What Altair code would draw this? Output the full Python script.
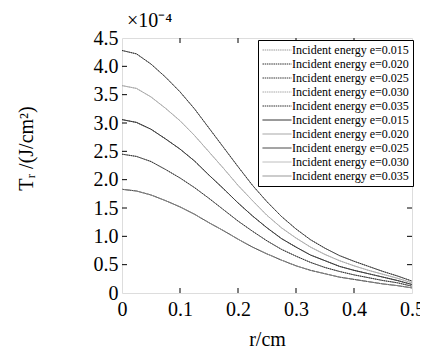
import altair as alt
import pandas as pd

# radial position (cm)
r_cm = [0.0, 0.025, 0.05, 0.075, 0.1, 0.125, 0.15, 0.175, 0.2, 0.225, 0.25,
        0.275, 0.3, 0.325, 0.35, 0.375, 0.4, 0.425, 0.45, 0.475, 0.5]

energies = ["0.015", "0.020", "0.025", "0.030", "0.035"]

# Tr (x 1e-4 J/cm^2) for each incident energy
tr_e015 = [1.83, 1.80, 1.73, 1.63, 1.52, 1.39, 1.24, 1.10, 0.95, 0.81, 0.69,
           0.58, 0.48, 0.40, 0.34, 0.28, 0.24, 0.20, 0.16, 0.13, 0.09]
tr_e020 = [2.45, 2.41, 2.32, 2.18, 2.03, 1.86, 1.67, 1.47, 1.27, 1.09, 0.92,
           0.77, 0.65, 0.54, 0.45, 0.38, 0.32, 0.27, 0.22, 0.18, 0.12]
tr_e025 = [3.06, 3.01, 2.89, 2.72, 2.54, 2.33, 2.08, 1.84, 1.59, 1.36, 1.15,
           0.96, 0.81, 0.67, 0.57, 0.47, 0.40, 0.34, 0.28, 0.22, 0.15]
tr_e030 = [3.66, 3.61, 3.46, 3.26, 3.04, 2.78, 2.49, 2.20, 1.90, 1.63, 1.37,
           1.15, 0.97, 0.81, 0.68, 0.57, 0.48, 0.40, 0.33, 0.26, 0.18]
tr_e035 = [4.28, 4.22, 4.04, 3.81, 3.55, 3.25, 2.91, 2.57, 2.23, 1.90, 1.61,
           1.35, 1.13, 0.94, 0.79, 0.66, 0.56, 0.47, 0.38, 0.30, 0.21]
curves = [tr_e015, tr_e020, tr_e025, tr_e030, tr_e035]

x_ticks = [0.0, 0.1, 0.2, 0.3, 0.4, 0.5]
y_ticks = [0.0, 0.5, 1.0, 1.5, 2.0, 2.5, 3.0, 3.5, 4.0, 4.5]
x_inner = [0.1, 0.2, 0.3, 0.4]
y_inner = [0.5, 1.0, 1.5, 2.0, 2.5, 3.0, 3.5, 4.0]

dotted_colors = ["#9a9a9a", "#303030", "#383838", "#a8a8a8", "#303030"]
solid_colors = ["#1a1a1a", "#9a9a9a", "#333333", "#b4b4b4", "#8a8a8a"]
solid_widths = [1.3, 2.2, 1.2, 1.0, 2.2]

FONT = "Liberation Serif"
W, H = 290, 255

rows = []
keys, colors, dashes, widths = [], [], [], []
for style in ["D", "S"]:
    for i, e in enumerate(energies):
        key = f"{style}|Incident energy e={e}"
        keys.append(key)
        if style == "D":
            colors.append(dotted_colors[i]); dashes.append([1.5, 0.7]); widths.append(1.0)
        else:
            colors.append(solid_colors[i]); dashes.append([1, 0]); widths.append(solid_widths[i])
        for r, v in zip(r_cm, curves[i]):
            rows.append({"r": r, "T": v, "key": key, "style": style})
df = pd.DataFrame(rows)

xscale = alt.Scale(domain=[0, 0.5], nice=False, zero=False)
yscale = alt.Scale(domain=[0, 4.5], nice=False, zero=False)
lab = "datum.value == 0 ? '0' : format(datum.value, '.1f')"
xaxis = alt.Axis(values=x_ticks, labelExpr=lab, grid=False, ticks=False, domain=False,
                 labelFont=FONT, labelFontSize=20, labelColor="black", labelPadding=6,
                 labelFlush=False, labelOverlap=False,
                 title="r/cm", titleFont=FONT, titleFontSize=20, titleFontWeight="normal",
                 titleColor="black", titlePadding=10)
yaxis = alt.Axis(values=y_ticks, labelExpr=lab, grid=False, ticks=False, domain=False,
                 labelFont=FONT, labelFontSize=20, labelColor="black", labelPadding=4,
                 labelFlush=False, labelOverlap=False,
                 title="Tᵣ /(J/cm²)", titleFont=FONT, titleFontSize=20, titleFontWeight="normal",
                 titleColor="black", titlePadding=57, titleY=110)

legend = alt.Legend(orient="none", legendX=136, legendY=2, title=None,
                    symbolType="stroke", symbolSize=841, clipHeight=12,
                    labelFont=FONT, labelFontSize=12, labelColor="black", labelOffset=0,
                    labelLimit=300, labelExpr="slice(datum.label, 2)",
                    padding=4, rowPadding=2, strokeColor="black", fillColor="white")

def enc(base):
    return base.encode(
        x=alt.X("r:Q", scale=xscale, axis=xaxis),
        y=alt.Y("T:Q", scale=yscale, axis=yaxis),
        color=alt.Color("key:N", scale=alt.Scale(domain=keys, range=colors), legend=legend),
        strokeDash=alt.StrokeDash("key:N", scale=alt.Scale(domain=keys, range=dashes), legend=legend),
        strokeWidth=alt.StrokeWidth("key:N", scale=alt.Scale(domain=keys, range=widths), legend=legend),
    )

solid = enc(alt.Chart(df).transform_filter("datum.style == 'S'").mark_line())
dotted = enc(alt.Chart(df).transform_filter("datum.style == 'D'").mark_line())

xt = pd.DataFrame({"r": x_inner})
yt = pd.DataFrame({"T": y_inner})
top_t = alt.Chart(xt).mark_rule(color="black").encode(
    x=alt.X("r:Q", scale=xscale, axis=xaxis), y=alt.value(0), y2=alt.value(5))
bot_t = alt.Chart(xt).mark_rule(color="black").encode(
    x=alt.X("r:Q", scale=xscale, axis=xaxis), y=alt.value(H), y2=alt.value(H - 5))
left_t = alt.Chart(yt).mark_rule(color="black").encode(
    y=alt.Y("T:Q", scale=yscale, axis=yaxis), x=alt.value(0), x2=alt.value(5))
right_t = alt.Chart(yt).mark_rule(color="black").encode(
    y=alt.Y("T:Q", scale=yscale, axis=yaxis), x=alt.value(W), x2=alt.value(W - 5))

chart = alt.layer(solid, dotted, top_t, bot_t, left_t, right_t).properties(
    width=W, height=H,
    autosize=alt.AutoSizeParams(type="none"),
    padding={"left": 114, "top": 30, "right": 8, "bottom": 54},
    title=alt.TitleParams("×10⁻⁴", anchor="start", font=FONT, fontSize=20,
                          fontWeight="normal", color="black", offset=-3, dx=5, frame="group"),
).configure_view(stroke="black", strokeWidth=1).configure(background="white")

chart.save("out.html", embed_options={"renderer": "svg", "actions": False})
